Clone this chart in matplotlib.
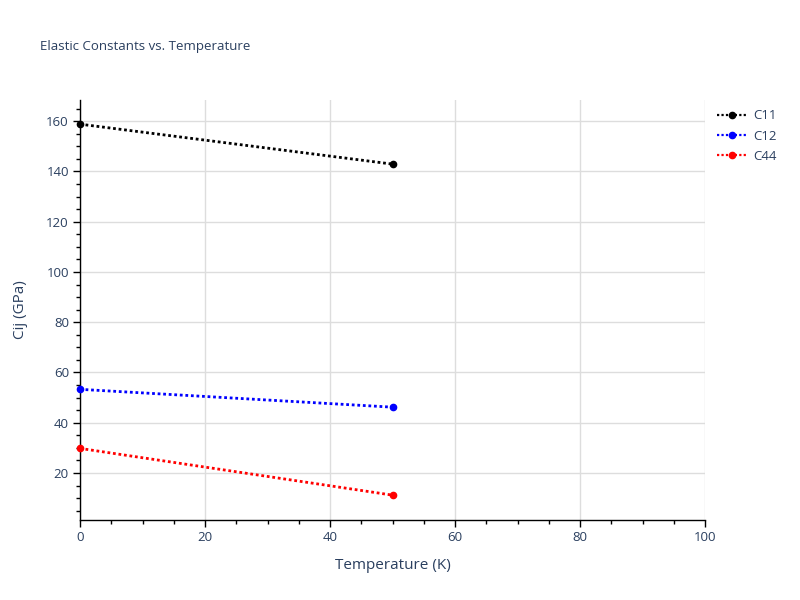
import matplotlib
matplotlib.use("Agg")
import matplotlib.pyplot as plt
from matplotlib.ticker import MultipleLocator

plt.rcParams['font.family'] = ['Open Sans', 'DejaVu Sans']

temperature = [0, 50]
series_names = ["C11", "C12", "C44"]
c11 = [158.8, 142.9]
c12 = [53.3, 46.2]
c44 = [29.8, 11.2]
colors = ["black", "blue", "red"]

title = "Elastic Constants vs. Temperature"
xlabel = "Temperature (K)"
ylabel = "Cij (GPa)"

text_color = "#2a3f5f"

fig = plt.figure(figsize=(8, 6), dpi=100)
ax = fig.add_axes([0.1, 0.1333, 0.78125, 0.7])

for name, vals, col in zip(series_names, [c11, c12, c44], colors):
    ax.plot(temperature, vals, linestyle=(0, (1, 1)), linewidth=2, color=col,
            marker='o', markersize=4.5, label=name, clip_on=False, zorder=3)

ax.set_xlim(0, 100)
ax.set_ylim(1.3, 168.4)
ax.xaxis.set_major_locator(MultipleLocator(20))
ax.xaxis.set_minor_locator(MultipleLocator(5))
ax.yaxis.set_major_locator(MultipleLocator(20))
ax.yaxis.set_minor_locator(MultipleLocator(5))
ax.grid(True, which='major', color='#dddddd', linewidth=1)
ax.set_axisbelow(True)

for s in ['top', 'right']:
    ax.spines[s].set_visible(False)
for s in ['left', 'bottom']:
    ax.spines[s].set_color('black')
    ax.spines[s].set_linewidth(1)

ax.tick_params(axis='both', which='major', direction='out', length=5, width=1,
               color='black', labelcolor=text_color, labelsize=9.5, pad=3)
ax.tick_params(axis='both', which='minor', direction='out', length=3, width=1,
               color='black')

ax.set_xlabel(xlabel, color=text_color, fontsize=11, labelpad=10)
ax.set_ylabel(ylabel, color=text_color, fontsize=11, labelpad=13)

fig.text(0.05, 0.923, title, color=text_color, fontsize=9.5, va='center', ha='left')

leg = ax.legend(loc='upper left', bbox_to_anchor=(1.005, 1.0), frameon=False,
                fontsize=9.5, handlelength=2.2, handletextpad=0.5,
                labelspacing=0.55, borderaxespad=0.3)
for t in leg.get_texts():
    t.set_color(text_color)
for line in leg.get_lines():
    line.set_linewidth(1.6)

fig.savefig("out.png", dpi=100)
